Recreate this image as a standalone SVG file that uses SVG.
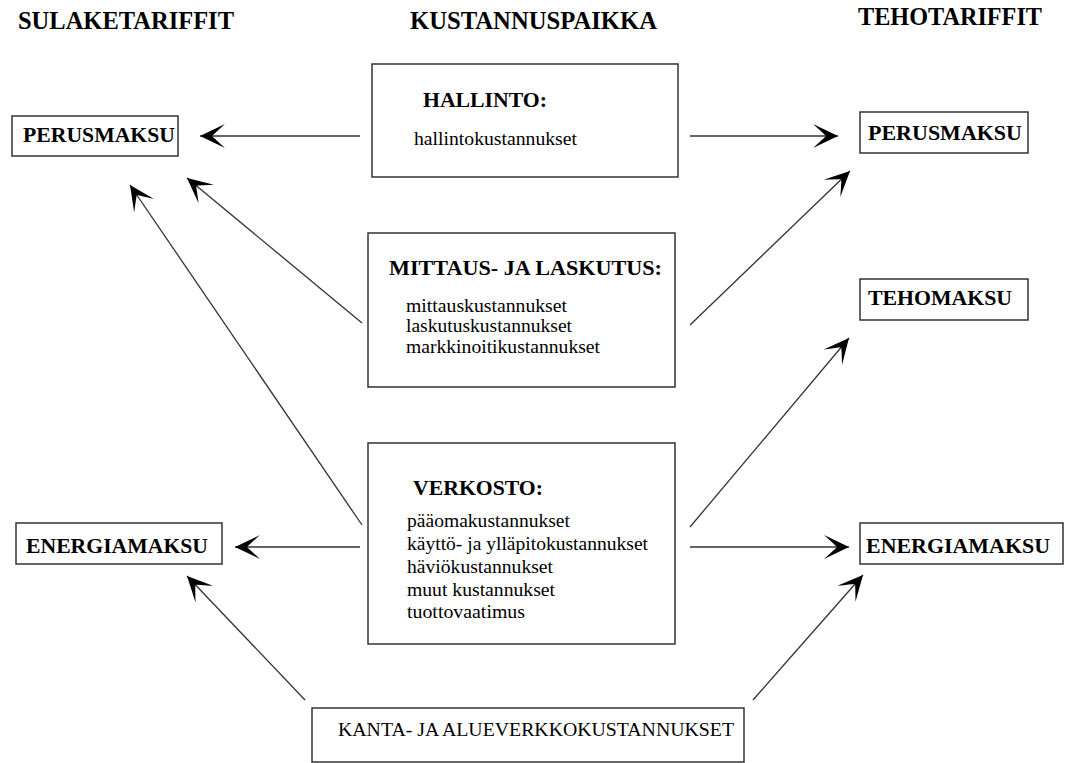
<svg xmlns="http://www.w3.org/2000/svg" width="1065" height="763" viewBox="0 0 1065 763">
<style>
.title{font-family:"Liberation Serif",serif;font-weight:bold;font-size:25px;fill:#000}
.lbl{font-family:"Liberation Serif",serif;font-weight:bold;font-size:22px;fill:#000}
.body{font-family:"Liberation Serif",serif;font-size:19px;fill:#000}
.box{fill:#fff;stroke:#333;stroke-width:1.5}
.con line{stroke:#333;stroke-width:1.3;marker-end:url(#ah)}
</style>
<defs>
<marker id="ah" markerUnits="userSpaceOnUse" viewBox="-27 -13 28 26" refX="0" refY="0" markerWidth="28" markerHeight="26" orient="auto">
<path d="M0,0 L-25,-12 Q-15,-3 -12,0 Q-15,3 -25,12 Z" fill="#000"/>
</marker>
</defs>
<rect width="1065" height="763" fill="#fff"/>
<g id="titles">
<text class="title" x="18" y="29" textLength="216" lengthAdjust="spacingAndGlyphs">SULAKETARIFFIT</text>
<text class="title" x="410" y="29" textLength="247" lengthAdjust="spacingAndGlyphs">KUSTANNUSPAIKKA</text>
<text class="title" x="858" y="25" textLength="184" lengthAdjust="spacingAndGlyphs">TEHOTARIFFIT</text>
</g>
<g id="con" class="con">
<line x1="360" y1="136" x2="200" y2="136"/>
<line x1="690" y1="136" x2="838" y2="136"/>
<line x1="362" y1="323" x2="187" y2="178"/>
<line x1="690" y1="325" x2="850" y2="171"/>
<line x1="362" y1="525" x2="130" y2="185"/>
<line x1="360" y1="547" x2="235" y2="547"/>
<line x1="690" y1="527" x2="849" y2="338"/>
<line x1="690" y1="547" x2="849" y2="547"/>
<line x1="305" y1="700" x2="187" y2="576"/>
<line x1="753" y1="700" x2="863" y2="575"/>
</g>
<g id="perus-left">
<rect class="box" x="12" y="116" width="166" height="40"/>
<text class="lbl" x="23" y="142" textLength="152" lengthAdjust="spacingAndGlyphs">PERUSMAKSU</text>
</g>
<g id="energia-left">
<rect class="box" x="16" y="523" width="206" height="41"/>
<text class="lbl" x="26" y="553" textLength="182" lengthAdjust="spacingAndGlyphs">ENERGIAMAKSU</text>
</g>
<g id="hallinto">
<rect class="box" x="372" y="64" width="306" height="113"/>
<text class="lbl" x="423" y="107" textLength="124" lengthAdjust="spacingAndGlyphs">HALLINTO:</text>
<text class="body" x="414" y="145" textLength="163" lengthAdjust="spacingAndGlyphs">hallintokustannukset</text>
</g>
<g id="mittaus">
<rect class="box" x="368" y="233" width="307" height="154"/>
<text class="lbl" x="389" y="275" textLength="273" lengthAdjust="spacingAndGlyphs">MITTAUS- JA LASKUTUS:</text>
<text class="body" x="406" y="312" textLength="161" lengthAdjust="spacingAndGlyphs">mittauskustannukset</text>
<text class="body" x="406" y="332" textLength="166" lengthAdjust="spacingAndGlyphs">laskutuskustannukset</text>
<text class="body" x="406" y="353" textLength="194" lengthAdjust="spacingAndGlyphs">markkinoitikustannukset</text>
</g>
<g id="verkosto">
<rect class="box" x="368" y="443" width="307" height="201"/>
<text class="lbl" x="413" y="495" textLength="130" lengthAdjust="spacingAndGlyphs">VERKOSTO:</text>
<text class="body" x="407" y="527" textLength="163" lengthAdjust="spacingAndGlyphs">pääomakustannukset</text>
<text class="body" x="407" y="550" textLength="241" lengthAdjust="spacingAndGlyphs">käyttö- ja ylläpitokustannukset</text>
<text class="body" x="407" y="573" textLength="146" lengthAdjust="spacingAndGlyphs">häviökustannukset</text>
<text class="body" x="407" y="596" textLength="148" lengthAdjust="spacingAndGlyphs">muut kustannukset</text>
<text class="body" x="407" y="618" textLength="118" lengthAdjust="spacingAndGlyphs">tuottovaatimus</text>
</g>
<g id="kanta">
<rect class="box" x="312" y="708" width="432" height="54"/>
<text class="body" x="338" y="736" textLength="396" lengthAdjust="spacingAndGlyphs">KANTA- JA ALUEVERKKOKUSTANNUKSET</text>
</g>
<g id="perus-right">
<rect class="box" x="860" y="112" width="168" height="41"/>
<text class="lbl" x="868" y="140" textLength="154" lengthAdjust="spacingAndGlyphs">PERUSMAKSU</text>
</g>
<g id="teho-right">
<rect class="box" x="860" y="279" width="168" height="41"/>
<text class="lbl" x="868" y="305" textLength="144" lengthAdjust="spacingAndGlyphs">TEHOMAKSU</text>
</g>
<g id="energia-right">
<rect class="box" x="860" y="523" width="203" height="41"/>
<text class="lbl" x="866" y="553" textLength="184" lengthAdjust="spacingAndGlyphs">ENERGIAMAKSU</text>
</g>
</svg>
